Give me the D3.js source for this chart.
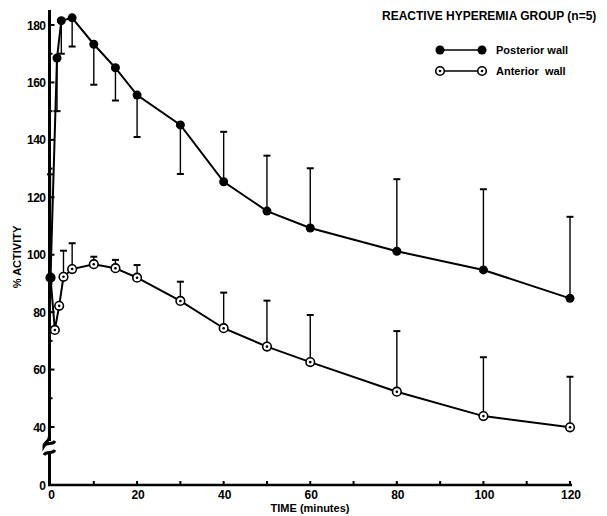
<!DOCTYPE html>
<html>
<head>
<meta charset="utf-8">
<script src="https://cdn.jsdelivr.net/npm/d3@7"></script>
<style>
	body { margin: 0; background: #fff; }
	text { font-family: "Liberation Sans", Arial, sans-serif; font-weight: bold; fill: #000; }
</style>
</head>
<body>
<svg width="607" height="516"></svg>
<script>
// time in minutes
var postTime = [0, 1.5, 2.5, 5, 10, 15, 20, 30, 40, 50, 60, 80, 100, 120]
var postMean = [92, 168.5, 181.5, 182.5, 173.3, 165.1, 155.6, 145.2, 125.4, 115.2, 109.3, 101.2, 94.7, 84.8]
var postBar = [128, 150, 170, 172.5, 159.2, 153.7, 141, 128.1, 142.8, 134.5, 130.1, 126.3, 122.8, 113.2]

var antTime = [0, 1, 2, 3, 5, 10, 15, 20, 30, 40, 50, 60, 80, 100, 120]
var antMean = [92, 73.8, 82.2, 92.3, 95, 96.7, 95.3, 92, 83.9, 74.4, 68, 62.6, 52.3, 43.8, 39.8]
var antBar = [null, null, null, 101.4, 104, 99.3, 98.2, 96.4, 90.6, 86.8, 84, 79, 73.4, 64.3, 57.5]

var xTicks = [0, 20, 40, 60, 80, 100, 120]
var yTicks = [40, 60, 80, 100, 120, 140, 160, 180]

var svg = d3.select("svg")

var x = d3.scaleLinear().domain([0, 120]).range([50.5, 570])
// broken axis: 0 sits just below the 40 line
var y = d3.scaleLinear().domain([0, 40, 180]).range([485, 427, 25])

var axisX = 49.5

// x axis
svg.append("line")
	.attr("x1", axisX - 1.5).attr("x2", x(120) + 2)
	.attr("y1", y(0)).attr("y2", y(0))
	.attr("stroke", "#000").attr("stroke-width", 2.5)

d3.range(10, 121, 10).forEach(function(t) {
	svg.append("line")
		.attr("x1", x(t)).attr("x2", x(t))
		.attr("y1", y(0)).attr("y2", y(0) - 4)
		.attr("stroke", "#000").attr("stroke-width", 2)
})

xTicks.forEach(function(t) {
	svg.append("text")
		.attr("x", x(t) + 1).attr("y", y(0) + 14)
		.attr("text-anchor", "middle")
		.attr("font-size", 12)
		.text(t)
})

svg.append("text")
	.attr("x", 310).attr("y", 512)
	.attr("text-anchor", "middle")
	.attr("font-size", 11)
	.text("TIME (minutes)")

// y axis
svg.append("line")
	.attr("x1", axisX).attr("x2", axisX)
	.attr("y1", y(0) + 1).attr("y2", 10)
	.attr("stroke", "#000").attr("stroke-width", 3)

d3.range(40, 181, 10).forEach(function(v) {
	svg.append("line")
		.attr("x1", axisX).attr("x2", axisX + (v % 20 ? 3 : 5))
		.attr("y1", y(v)).attr("y2", y(v))
		.attr("stroke", "#000").attr("stroke-width", 2)
})

yTicks.concat([0]).forEach(function(v) {
	svg.append("text")
		.attr("x", axisX - 4).attr("y", y(v) + 4.5)
		.attr("text-anchor", "end")
		.attr("font-size", 12)
		.attr("letter-spacing", -0.5)
		.text(v)
})

svg.append("text")
	.attr("transform", "translate(21,257) rotate(-90)")
	.attr("text-anchor", "middle")
	.attr("font-size", 11)
	.text("% ACTIVITY")

// axis break
svg.append("rect")
	.attr("x", axisX - 5).attr("y", 441)
	.attr("width", 10).attr("height", 16)
	.attr("fill", "#fff")
var brk = svg.append("g").attr("fill", "none").attr("stroke", "#000").attr("stroke-width", 3)
brk.append("path").attr("d", "M" + axisX + ",436 C" + axisX + ",442 44,442 44,446 C47,441 52,446 55,441")
brk.append("path").attr("d", "M44,455 C47,450 52,455 55,450 M" + axisX + ",453 C" + axisX + ",457 " + axisX + ",459 " + axisX + ",462")

// error bars
function errorBars(times, means, bars) {
	var g = svg.append("g")
	times.forEach(function(t, i) {
		if (bars[i] == null) return
		g.append("line")
			.attr("x1", x(t)).attr("x2", x(t))
			.attr("y1", y(means[i])).attr("y2", y(bars[i]))
			.attr("stroke", "#000").attr("stroke-width", 1.4)
		g.append("line")
			.attr("x1", x(t) - 3.5).attr("x2", x(t) + 3.5)
			.attr("y1", y(bars[i])).attr("y2", y(bars[i]))
			.attr("stroke", "#000").attr("stroke-width", 2)
	})
}
errorBars(postTime, postMean, postBar)
errorBars(antTime, antMean, antBar)

var line = d3.line()
	.x(function(d) { return x(d[0]) })
	.y(function(d) { return y(d[1]) })

svg.append("path")
	.attr("d", line(d3.zip(postTime, postMean)))
	.attr("fill", "none").attr("stroke", "#000").attr("stroke-width", 2)

svg.append("path")
	.attr("d", line(d3.zip(antTime, antMean)))
	.attr("fill", "none").attr("stroke", "#000").attr("stroke-width", 2)

function filledDot(g, cx, cy) {
	g.append("circle").attr("cx", cx).attr("cy", cy).attr("r", 4.5).attr("fill", "#000")
}
function openDot(g, cx, cy) {
	g.append("circle").attr("cx", cx).attr("cy", cy).attr("r", 4.3)
		.attr("fill", "#fff").attr("stroke", "#000").attr("stroke-width", 1.6)
	g.append("circle").attr("cx", cx).attr("cy", cy).attr("r", 1.3).attr("fill", "#000")
}

var dots = svg.append("g")
antTime.forEach(function(t, i) { openDot(dots, x(t), y(antMean[i])) })
postTime.forEach(function(t, i) { filledDot(dots, x(t), y(postMean[i])) })

// legend
svg.append("text")
	.attr("x", 382).attr("y", 20)
	.attr("font-size", 12)
	.text("REACTIVE HYPEREMIA GROUP (n=5)")

var legend = svg.append("g")
legend.append("line").attr("x1", 440).attr("x2", 482).attr("y1", 50).attr("y2", 50)
	.attr("stroke", "#000").attr("stroke-width", 1.6)
filledDot(legend, 440, 50)
filledDot(legend, 482, 50)
legend.append("text").attr("x", 496).attr("y", 54).attr("font-size", 11).text("Posterior wall")

legend.append("line").attr("x1", 440).attr("x2", 482).attr("y1", 71).attr("y2", 71)
	.attr("stroke", "#000").attr("stroke-width", 1.6)
openDot(legend, 440, 71)
openDot(legend, 482, 71)
legend.append("text").attr("x", 496).attr("y", 75).attr("font-size", 11).attr("xml:space", "preserve").text("Anterior  wall")
</script>
</body>
</html>
